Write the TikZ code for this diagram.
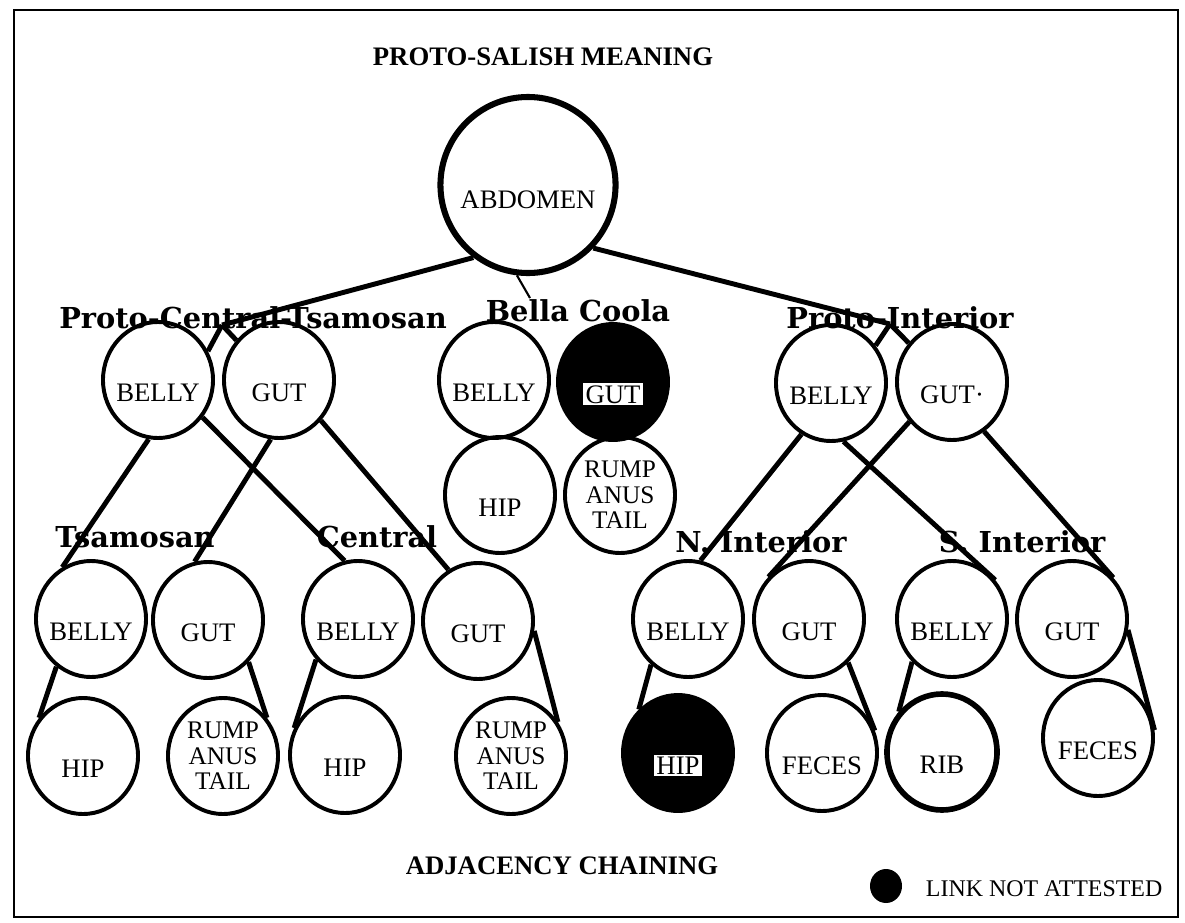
\documentclass[tikz,border=0pt]{standalone}
\usepackage{fontspec}
\setmainfont{Liberation Serif}
\newfontfamily\grpfont{DejaVu Serif}
\usetikzlibrary{shapes.geometric}
\newcommand\celltext{\fontsize{19}{18}\selectfont}
\newcommand\stacktext{\fontsize{18}{18}\selectfont}
\newcommand\hole[1]{{\setlength{\fboxsep}{1.5pt}\colorbox{white}{#1}}}

\begin{document}
\begin{tikzpicture}[x=0.025cm, y=-0.025cm,
	cell/.style={ellipse, draw, line width=2.8pt, minimum width=2.75cm, minimum height=2.9cm, inner xsep=-4pt, inner ysep=0pt, text height=30pt, text depth=0pt, font=\celltext},
	stack/.style={cell, align=center, text height=, text depth=, font=\stacktext},
	dead/.style={cell, fill=black},
	link/.style={line width=3.5pt},
	grp/.style={font=\grpfont\bfseries\fontsize{20.5}{22}\selectfont},
	head/.style={font=\bfseries\fontsize{19}{20}\selectfont}]
			%%%%% START %%%%%
			\useasboundingbox (0,0) rectangle (1185,922);
			\draw[line width=2pt] (14,10) rectangle (1178,917);
			
			\node[head] (title) at (543,57) {PROTO-SALISH MEANING};
			\node[cell, line width=4.3pt, minimum width=4.3cm, minimum height=4.4cm, text height=33pt] (abd) at (528,185) {ABDOMEN};
			
			% proto-languages
			\node[cell] (pctbelly) at (158,380) {BELLY};
			\node[cell] (pctgut) at (279,380) {GUT};
			\node[cell] (bcbelly) at (494,380) {BELLY};
			\node[dead] (bcgut) at (613,382) {\hole{GUT}};
			\node[cell] (bchip) at (500,495) {HIP};
			\node[stack] (bcrump) at (620,495) {RUMP\\ANUS\\TAIL};
			\node[cell] (pibelly) at (831,383) {BELLY};
			\node[cell] (pigut) at (952,382) {GUT·};
			
			% daughter branches
			\node[cell] (tsbelly) at (91,619) {BELLY};
			\node[cell] (tsgut) at (208,620) {GUT};
			\node[cell] (cebelly) at (358,619) {BELLY};
			\node[cell] (cegut) at (478,621) {GUT};
			\node[cell] (nibelly) at (688,619) {BELLY};
			\node[cell] (nigut) at (809,619) {GUT};
			\node[cell] (sibelly) at (952,619) {BELLY};
			\node[cell] (sigut) at (1072,619) {GUT};
			
			\node[cell] (tship) at (83,756) {HIP};
			\node[stack] (tsrump) at (223,756) {RUMP\\ANUS\\TAIL};
			\node[cell] (cehip) at (345,755) {HIP};
			\node[stack] (cerump) at (511,756) {RUMP\\ANUS\\TAIL};
			\node[dead] (nihip) at (678,753) {\hole{HIP}};
			\node[cell] (nifeces) at (822,753) {FECES};
			\node[cell, line width=4pt] (sirib) at (942,752) {RIB};
			\node[cell] (sifeces) at (1098,738) {FECES};
			
			% links
			\coordinate (pctfork) at (222,325);
			\coordinate (pifork) at (890,324);
			\coordinate (bctip) at (530,298);
			\draw[link] (abd.233) -- (pctfork);
			\draw[link] (pctfork) -- (pctbelly.30);
			\draw[link] (pctfork) -- (pctgut.137);
			\draw[link] (abd.316) -- (pifork);
			\draw[link] (pifork) -- (pibelly.40);
			\draw[link] (pifork) -- (pigut.138);
			\draw[line width=1.5pt] (abd.263) -- (bctip);
			
			\draw[link] (pctbelly.261) -- (tsbelly.119);
			\draw[link] (pctbelly.320) -- (cebelly.103);
			\draw[link] (pctgut.262) -- (tsgut.103);
			\draw[link] (pctgut.316) -- (cegut.120);
			\draw[link] (pibelly.240) -- (nibelly.78);
			\draw[link] (pibelly.282) -- (sibelly.42);
			\draw[link] (pigut.223) -- (nigut.134);
			\draw[link] (pigut.303) -- (sigut.45);
			
			\draw[link] (tsbelly.234) -- (tship.139);
			\draw[link] (tsgut.314) -- (tsrump.41);
			\draw[link] (cebelly.224) -- (cehip.152);
			\draw[link] (cegut.350) -- (cerump.36);
			\draw[link] (nibelly.231) -- (nihip.132);
			\draw[link] (nigut.312) -- (nifeces.23);
			\draw[link] (sibelly.227) -- (sirib.137);
			\draw[link] (sigut.349) -- (sifeces.8);
			
			% group labels
			\node[grp] (pctname) at (253,318) {Proto-Central-Tsamosan};
			\node[grp] (bcname) at (578,311) {Bella Coola};
			\node[grp] (piname) at (900,318) {Proto-Interior};
			\node[grp] (tsname) at (135,537) {Tsamosan};
			\node[grp] (cename) at (377,537) {Central};
			\node[grp] (niname) at (761,542) {N. Interior};
			\node[grp] (siname) at (1022,542) {S. Interior};
			
			\node[head] (chain) at (562,866) {ADJACENCY CHAINING};
			\node[ellipse, fill=black, minimum width=0.8cm, minimum height=0.85cm] (key) at (886,886) {};
			\node[font=\fontsize{17}{18}\selectfont, right=0pt] (keytext) at (921,889) {LINK NOT ATTESTED};
			%%%%% END %%%%%
\end{tikzpicture}
\end{document}
